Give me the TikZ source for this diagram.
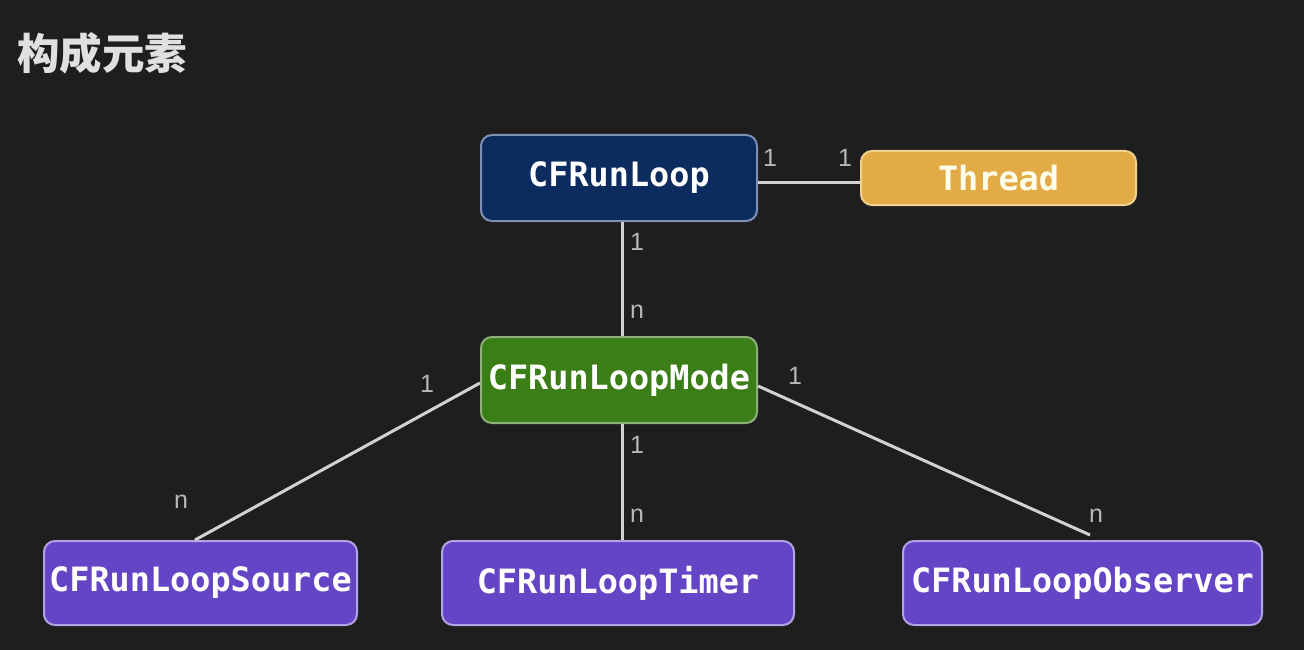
\documentclass[tikz,border=0pt]{standalone}
\usepackage{fontspec}
\setmainfont{Liberation Sans}
\newfontfamily\codefont{DejaVu Sans Mono}
\newfontfamily\cjk{Noto Sans CJK SC}
\definecolor{bg}{HTML}{1E1E1E}
\definecolor{navy}{HTML}{0C2B5E}
\definecolor{navyb}{HTML}{7F90B5}
\definecolor{gold}{HTML}{E2AB45}
\definecolor{goldb}{HTML}{F2D18E}
\definecolor{green}{HTML}{3B7D17}
\definecolor{greenb}{HTML}{8DAF7C}
\definecolor{purp}{HTML}{6445C6}
\definecolor{purpb}{HTML}{B2A2E6}
\definecolor{linec}{HTML}{D2D2D2}
\definecolor{lblc}{HTML}{B8B8B8}
\begin{document}
\begin{tikzpicture}[x=1pt,y=-1pt,
  box/.style={draw, line width=2pt, rounded corners=11pt, inner sep=0pt,
    font=\codefont\bfseries\fontsize{33.5}{33.5}\selectfont, text=white},
  conn/.style={draw=linec, line width=3pt},
  lbl/.style={text=lblc, font=\fontsize{25}{25}\selectfont, inner sep=0pt}]
\fill[bg] (0,0) rectangle (1304,650);
\useasboundingbox (0,0) rectangle (1304,650);
\node[anchor=west, text=white!88!black, font=\cjk\bfseries\fontsize{42.5}{42.5}\selectfont, inner sep=0pt] (title) at (17,53) {构成元素};

\node[box, fill=navy, draw=navyb, minimum width=276pt, minimum height=86pt] (rl) at (619,178) {CFRunLoop};
\node[box, fill=gold, draw=goldb, minimum width=275pt, minimum height=54pt, text=white!92!yellow] (th) at (998.5,178) {Thread};
\node[box, fill=green, draw=greenb, minimum width=276pt, minimum height=86pt] (mode) at (619,380) {CFRunLoopMode};
\node[box, fill=purp, draw=purpb, minimum width=313pt, minimum height=84pt] (src) at (200.5,583) {CFRunLoopSource};
\node[box, fill=purp, draw=purpb, minimum width=352pt, minimum height=84pt] (tim) at (618,583) {CFRunLoopTimer};
\node[box, fill=purp, draw=purpb, minimum width=359pt, minimum height=84pt] (obs) at (1082.5,583) {CFRunLoopObserver};

\draw[conn] (rl.east |- 0,182) -- (th.west |- 0,182);
\draw[conn] (rl.south -| 622,0) -- (mode.north -| 622,0);
\draw[conn] (mode.west |- 0,383) -- (src.north -| 195,0);
\draw[conn] (mode.south -| 622,0) -- (tim.north -| 622,0);
\draw[conn] (mode.east |- 0,386) -- ([yshift=5pt]obs.north -| 1090,0);

\node[lbl] (l1) at (770,158) {1};
\node[lbl] (l2) at (845,158) {1};
\node[lbl] (l3) at (637,242) {1};
\node[lbl] (l4) at (637,312) {n};
\node[lbl] (l5) at (427,384) {1};
\node[lbl] (l6) at (181,502) {n};
\node[lbl] (l7) at (637,445) {1};
\node[lbl] (l8) at (637,516) {n};
\node[lbl] (l9) at (795,376) {1};
\node[lbl] (l10) at (1096,516) {n};
\end{tikzpicture}
\end{document}
